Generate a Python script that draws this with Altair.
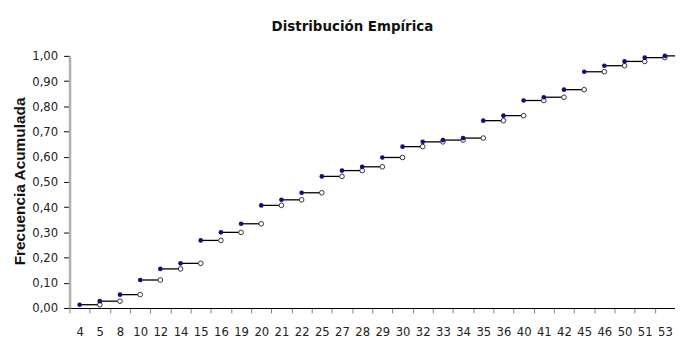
import altair as alt
import pandas as pd

categories = ["4", "5", "8", "10", "12", "14", "15", "16", "19", "20",
              "21", "22", "25", "27", "28", "29", "30", "32", "33", "34",
              "35", "36", "40", "41", "42", "45", "46", "50", "51", "53"]
cum_freq = [0.013, 0.027, 0.053, 0.111, 0.155, 0.177, 0.268, 0.300, 0.334, 0.407,
            0.429, 0.457, 0.522, 0.545, 0.560, 0.597, 0.640, 0.659, 0.666, 0.674,
            0.743, 0.763, 0.823, 0.836, 0.866, 0.937, 0.961, 0.978, 0.993, 1.000]
y_ticks = [0.0, 0.1, 0.2, 0.3, 0.4, 0.5, 0.6, 0.7, 0.8, 0.9, 1.0]

NARROW = "Liberation Sans Narrow, Arial Narrow, DejaVu Sans Condensed, sans-serif"

rows = []
for i in range(len(categories) - 1):
    rows.append({"step": i, "cat": categories[i], "F": cum_freq[i]})
    rows.append({"step": i, "cat": categories[i + 1], "F": cum_freq[i]})
steps = pd.DataFrame(rows)
points = pd.DataFrame({"cat": categories, "F": cum_freq})
open_pts = pd.DataFrame({"cat": categories[1:], "F": cum_freq[:-1]})
last = pd.DataFrame({"cat": categories[-1:], "F": cum_freq[-1:]})

xscale = alt.Scale(domain=categories, paddingInner=0, paddingOuter=0)
yscale = alt.Scale(domain=[0, 1])

x_axis = alt.Axis(title=None, labelAngle=0, tickBand="extent", tickSize=5,
                  tickColor="#808080", domainColor="#000000", domainWidth=1.2,
                  labelFont=NARROW, labelFontSize=13, labelColor="#222222",
                  labelPadding=13, grid=False)
y_axis = alt.Axis(values=y_ticks, labelExpr="replace(format(datum.value, '.2f'), '.', ',')",
                  tickColor="#000000", tickSize=6, labelPadding=6,
                  labelFont=NARROW, labelFontSize=13, labelColor="#222222",
                  domainColor="#b0b0b0", domainWidth=2.5, grid=False,
                  title="Frecuencia Acumulada", titleFont="Liberation Sans",
                  titleFontSize=15.5, titleFontWeight="bold", titleColor="#111111",
                  titleAngle=270, titleX=-50, titleY=126, titleAlign="center",
                  titleBaseline="middle")

X = alt.X("cat:N", scale=xscale, sort=categories, axis=x_axis)
Y = alt.Y("F:Q", scale=yscale, axis=y_axis)

lines = alt.Chart(steps).mark_line(color="#000000", strokeWidth=1.3).encode(
    x=X, y=Y, detail="step:N")
tail = alt.Chart(last).mark_rule(color="#000000", strokeWidth=1.3).encode(
    x=X, x2=alt.value(616), y=Y)
opens = alt.Chart(open_pts).mark_point(shape="circle", size=22, filled=True,
                                        fill="#ffffff", stroke="#333333",
                                        strokeWidth=1, opacity=1).encode(x=X, y=Y)
dots = alt.Chart(points).mark_point(shape="circle", size=22, filled=True,
                                     color="#10107a", opacity=1).encode(x=X, y=Y)

chart = alt.layer(lines, tail, opens, dots).properties(
    width=610, height=254,
    title=alt.TitleParams("Distribución Empírica", font=NARROW, fontSize=15,
                          fontWeight="bold", color="#111111", anchor="middle",
                          dx=-20, offset=4, frame="group", baseline="alphabetic"),
    padding={"left": 62, "top": 47, "right": 0, "bottom": 29},
    autosize=alt.AutoSizeParams(type="none"),
    background="#ffffff",
).configure_view(stroke=None)

chart.save("out.html", embed_options={"renderer": "svg", "actions": False})
